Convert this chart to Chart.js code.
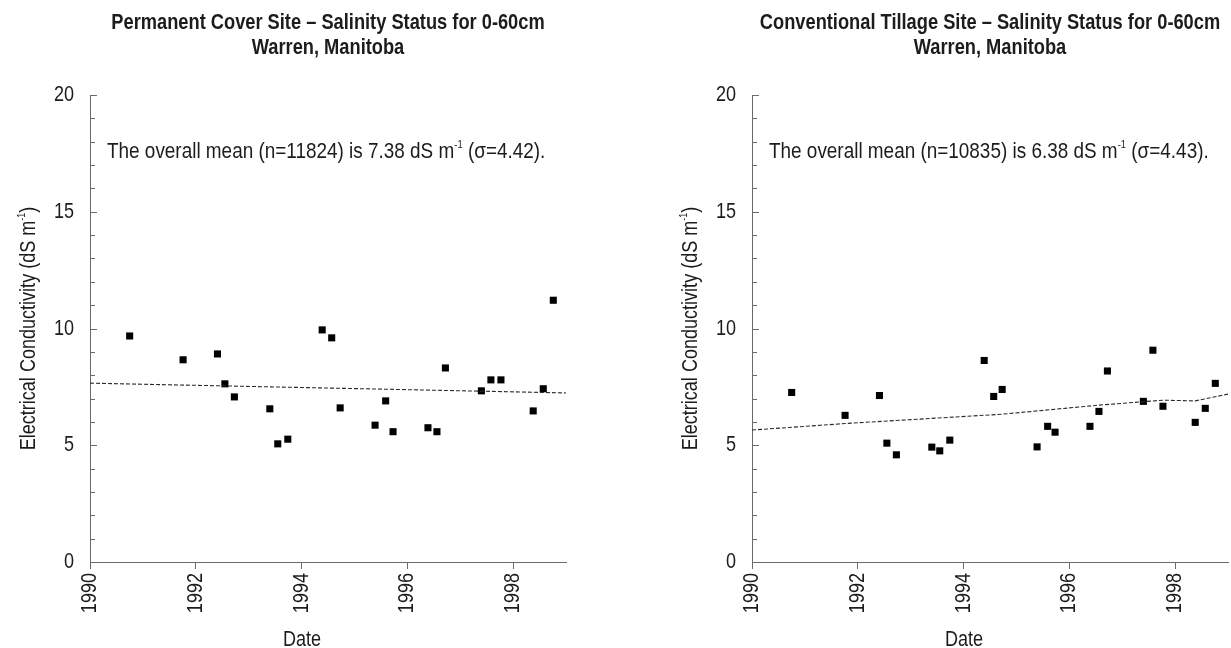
<!DOCTYPE html>
<html>
<head>
<meta charset="utf-8">
<script src="https://cdn.jsdelivr.net/npm/chart.js@4.4.1/dist/chart.umd.min.js"></script>
<style>
  html, body { margin: 0; padding: 0; background: #fff; overflow: hidden; width: 1231px; height: 648px; }
  .panel { position: absolute; top: 0; width: 662px; height: 648px; }
</style>
</head>
<body>
<div class="panel" style="left:0"><canvas id="cover" width="662" height="648"></canvas></div>
<div class="panel" style="left:662px"><canvas id="tillage" width="662" height="648"></canvas></div>
<script>
// sampling dates (decimal years), shared by both sites
const dates = [1990.75, 1991.76, 1992.41, 1992.55, 1992.73, 1993.40, 1993.55, 1993.74,
  1994.39, 1994.57, 1994.73, 1995.39, 1995.59, 1995.73, 1996.39, 1996.56, 1996.72,
  1997.40, 1997.58, 1997.77, 1998.38, 1998.57, 1998.76];

// mean EC, dS/m
const coverEC = [9.68, 8.66, 8.91, 7.63, 7.07, 6.56, 5.06, 5.26, 9.94, 9.60, 6.60, 5.86,
  6.90, 5.58, 5.75, 5.58, 8.31, 7.33, 7.80, 7.80, 6.47, 7.42, 11.21];
const tillageEC = [7.26, 6.28, 7.13, 5.09, 4.59, 4.92, 4.76, 5.22, 8.63, 7.09, 7.39, 4.93,
  5.81, 5.56, 5.81, 6.45, 8.18, 6.88, 9.07, 6.67, 5.98, 6.58, 7.65];

// trend lines
const coverTrendX = [1990, 1999];
const coverTrendY = [7.66, 7.24];
const tillageTrendX = [1990, 1991.76, 1994.73, 1996.57, 1997.77, 1998.38, 1999];
const tillageTrendY = [5.65, 5.93, 6.33, 6.72, 6.93, 6.90, 7.19];

const xTicks = [1990, 1992, 1994, 1996, 1998];
const yTicks = [0, 5, 10, 15, 20];
const yMinorStep = 1;

const coverTitle = ['Permanent Cover Site \u2013 Salinity Status for 0-60cm', 'Warren, Manitoba'];
const tillageTitle = ['Conventional Tillage Site \u2013 Salinity Status for 0-60cm', 'Warren, Manitoba'];
const coverNote = [['The overall mean (n=11824) is 7.38 dS m', false], ['-1', true], [' (\u03c3=4.42).', false]];
const tillageNote = [['The overall mean (n=10835) is 6.38 dS m', false], ['-1', true], [' (\u03c3=4.43).', false]];
const yTitle = [['Electrical Conductivity (dS m', false], ['-1', true], [')', false]];
const xTitle = 'Date';

// Liberation Sans squeezed horizontally stands in for the narrow face of the original
const FONT = "'Liberation Sans', Arial, sans-serif";
const NARROW = 0.82;
const SIZE = 22;
const INK = '#1c1c1c';
const AXIS = '#6b6b6b';

function txt(ctx, s, x, y, size, { bold = false, align = 'left', baseline = 'alphabetic', rot = 0, squeeze = NARROW } = {}) {
  ctx.save();
  ctx.translate(x, y);
  if (rot) ctx.rotate(rot);
  ctx.scale(squeeze, 1);
  ctx.font = (bold ? 'bold ' : '') + size + 'px ' + FONT;
  ctx.textAlign = align;
  ctx.textBaseline = baseline;
  ctx.fillText(s, 0, 0);
  ctx.restore();
}

function partSize(sup) { return sup ? Math.round(SIZE * 0.52) : SIZE; }

function partsWidth(ctx, parts, squeeze = NARROW) {
  let w = 0;
  parts.forEach(([t, sup]) => {
    ctx.font = partSize(sup) + 'px ' + FONT;
    w += ctx.measureText(t).width * squeeze;
  });
  return w;
}

function drawParts(ctx, parts, x, y, squeeze = NARROW) {
  let cx = x;
  parts.forEach(([t, sup]) => {
    txt(ctx, t, cx, sup ? y - SIZE * 0.44 : y, partSize(sup), { squeeze });
    ctx.font = partSize(sup) + 'px ' + FONT;
    cx += ctx.measureText(t).width * squeeze;
  });
}

// all text (narrow), plus inward y ticks
const decorations = {
  id: 'decorations',
  afterDraw(chart, args, o) {
    const { ctx, chartArea: a, scales: { x, y } } = chart;
    ctx.save();
    ctx.strokeStyle = AXIS;
    ctx.lineWidth = 1;
    for (let v = y.min; v <= y.max; v += yMinorStep) {
      const py = Math.round(y.getPixelForValue(v)) + 0.5;
      const len = v % 5 === 0 ? 7 : 5;
      ctx.beginPath();
      ctx.moveTo(a.left, py);
      ctx.lineTo(a.left + len, py);
      ctx.stroke();
    }

    ctx.fillStyle = INK;
    yTicks.forEach(v => txt(ctx, String(v), a.left - 16, y.getPixelForValue(v), SIZE, { align: 'right', baseline: 'middle' }));
    xTicks.forEach(v => txt(ctx, String(v), x.getPixelForValue(v), a.bottom + 11, SIZE, { align: 'right', baseline: 'middle', rot: -Math.PI / 2 }));

    const cx = (a.left + a.right) / 2;
    o.title.forEach((line, i) => txt(ctx, line, cx, 29 + i * 25, SIZE, { bold: true, align: 'center', squeeze: 0.83 }));
    txt(ctx, xTitle, cx - 26, 646, SIZE, { align: 'center' });

    drawParts(ctx, o.note, a.left + 17, 158, 0.86);

    ctx.translate(35, (a.top + a.bottom) / 2);
    ctx.rotate(-Math.PI / 2);
    drawParts(ctx, yTitle, -partsWidth(ctx, yTitle) / 2, 0);
    ctx.restore();
  }
};

function makeChart(id, values, trendX, trendY, title, note) {
  return new Chart(document.getElementById(id), {
    type: 'scatter',
    data: {
      datasets: [
        {
          data: trendX.map((x, i) => ({ x, y: trendY[i] })),
          showLine: true,
          pointRadius: 0,
          borderColor: '#2a2a2a',
          borderWidth: 1.1,
          borderDash: [4, 2]
        },
        {
          data: dates.map((x, i) => ({ x, y: values[i] })),
          pointStyle: 'rect',
          pointRadius: 5,
          backgroundColor: '#000',
          borderColor: '#000',
          borderWidth: 0
        }
      ]
    },
    options: {
      responsive: false,
      animation: false,
      events: [],
      layout: { padding: { top: 95, right: 96, left: 0, bottom: 0 } },
      plugins: {
        legend: { display: false },
        title: { display: false },
        tooltip: { enabled: false },
        decorations: { title, note }
      },
      scales: {
        x: {
          type: 'linear',
          min: 1990,
          max: 1999,
          afterFit: s => { s.height = 86; },
          afterBuildTicks: s => { s.ticks = xTicks.map(v => ({ value: v })); },
          grid: { drawOnChartArea: false, drawTicks: true, tickLength: 7, color: AXIS },
          border: { display: true, color: AXIS, width: 1 },
          ticks: { display: false }
        },
        y: {
          min: 0,
          max: 20,
          afterFit: s => { s.width = 90; },
          afterBuildTicks: s => { s.ticks = yTicks.map(v => ({ value: v })); },
          grid: { display: false },
          border: { display: true, color: AXIS, width: 1 },
          ticks: { display: false }
        }
      }
    },
    plugins: [decorations]
  });
}

makeChart('cover', coverEC, coverTrendX, coverTrendY, coverTitle, coverNote);
makeChart('tillage', tillageEC, tillageTrendX, tillageTrendY, tillageTitle, tillageNote);
</script>
</body>
</html>
